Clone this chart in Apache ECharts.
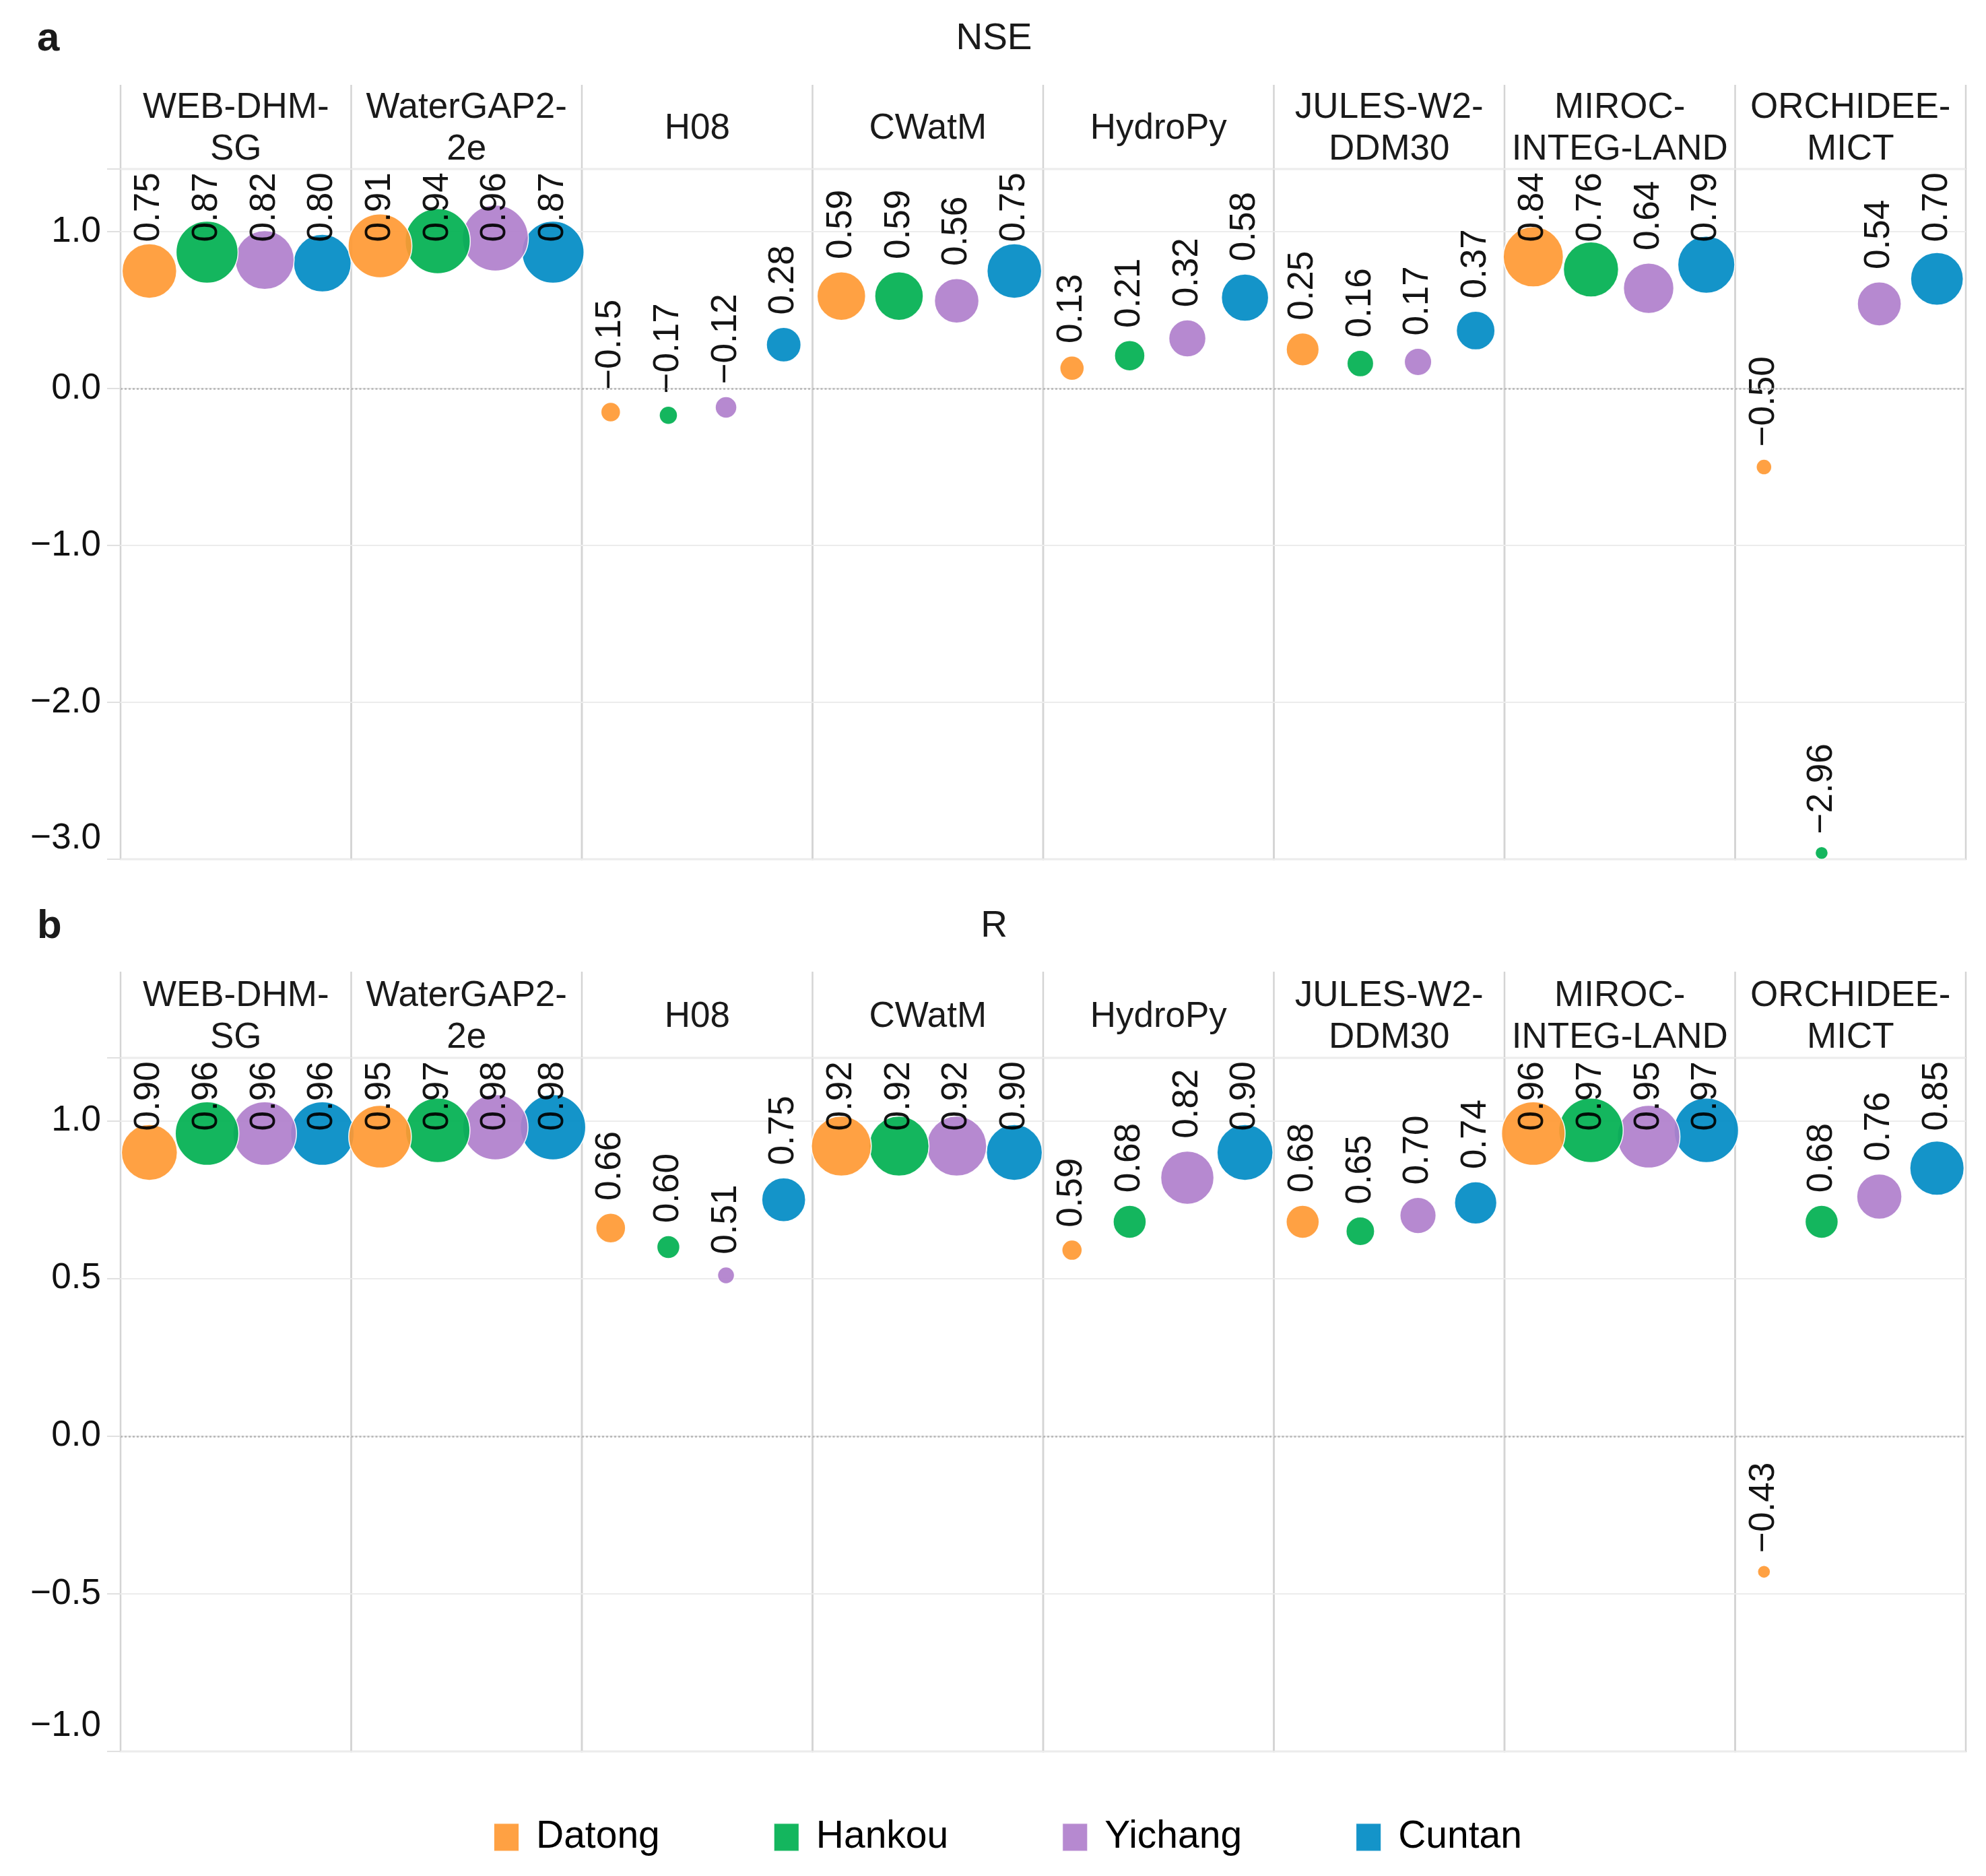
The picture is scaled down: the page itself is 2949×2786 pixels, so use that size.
<!DOCTYPE html>
<html lang="en">
<head>
<meta charset="UTF-8"/>
<title>NSE and R</title>
<script src="https://cdn.jsdelivr.net/npm/echarts@6/dist/echarts.min.js"></script>
<style>html,body{margin:0;padding:0;background:#fff;}</style>
</head>
<body>
<div id="main" style="width:2949px;height:2786px"></div>
<script>
// stations (legend order) and models (facets)
var stations = ['Datong', 'Hankou', 'Yichang', 'Cuntan'];
var models = ['WEB-DHM-SG', 'WaterGAP2-2e', 'H08', 'CWatM', 'HydroPy', 'JULES-W2-DDM30', 'MIROC-INTEG-LAND', 'ORCHIDEE-MICT'];
var modelHeaders = ['WEB-DHM-\nSG', 'WaterGAP2-\n2e', 'H08', 'CWatM', 'HydroPy', 'JULES-W2-\nDDM30', 'MIROC-\nINTEG-LAND', 'ORCHIDEE-\nMICT'];

// NSE, one value per model
var nseDatong  = [0.75, 0.91, -0.15, 0.59, 0.13, 0.25, 0.84, -0.50];
var nseHankou  = [0.87, 0.94, -0.17, 0.59, 0.21, 0.16, 0.76, -2.96];
var nseYichang = [0.82, 0.96, -0.12, 0.56, 0.32, 0.17, 0.64, 0.54];
var nseCuntan  = [0.80, 0.87, 0.28, 0.75, 0.58, 0.37, 0.79, 0.70];

// R, one value per model
var rDatong  = [0.90, 0.95, 0.66, 0.92, 0.59, 0.68, 0.96, -0.43];
var rHankou  = [0.96, 0.97, 0.60, 0.92, 0.68, 0.65, 0.97, 0.68];
var rYichang = [0.96, 0.98, 0.51, 0.92, 0.82, 0.70, 0.95, 0.76];
var rCuntan  = [0.96, 0.98, 0.75, 0.90, 0.90, 0.74, 0.97, 0.85];

var colors = ['#FF9933', '#00B050', '#B07FCC', '#008BC4'];
var FONT = '"Liberation Sans", Arial, sans-serif';

// point size scale (value -> diameter px), per panel
var nseSizeStops = [[-3, 19], [-0.5, 23], [-0.17, 27], [-0.12, 32], [0.13, 36], [0.21, 45], [0.32, 55],
                    [0.56, 66], [0.59, 72], [0.75, 81], [0.87, 92], [0.96, 98]];
var rSizeStops = [[-1, 18], [-0.43, 19], [0.51, 25], [0.59, 30], [0.60, 34], [0.66, 44], [0.68, 49],
                  [0.75, 65], [0.82, 79], [0.90, 83], [0.92, 89], [0.98, 97]];

function sizeOf(v, stops) {
    if (v <= stops[0][0]) return stops[0][1];
    for (var i = 1; i < stops.length; i++) {
        if (v <= stops[i][0]) {
            var a = stops[i - 1], b = stops[i];
            return a[1] + (v - a[0]) / (b[0] - a[0]) * (b[1] - a[1]);
        }
    }
    return stops[stops.length - 1][1];
}

function fmt(v, n) { return v.toFixed(n).replace('-', '\u2212'); }

var ctx = document.createElement('canvas').getContext('2d');
ctx.font = '53px "Liberation Sans"';
function textWidth(t) { return ctx.measureText(t).width; }

var LEFT = 179, FW = 342.5, GAP = 18;

var panels = [
    {tag: 'a', title: 'NSE', values: [nseDatong, nseHankou, nseYichang, nseCuntan], stops: nseSizeStops,
     min: -3, max: 1.4, interval: 1, headTop: 126, top: 251, bottom: 1276, titleY: 58, lowPad: 62},
    {tag: 'b', title: 'R', values: [rDatong, rHankou, rYichang, rCuntan], stops: rSizeStops,
     min: -1, max: 1.2, interval: 0.5, headTop: 1443, top: 1571, bottom: 2601, titleY: 1376, lowPad: 76}
];

var grids = [], xAxes = [], yAxes = [], series = [], graphics = [];
var drawOrder = [3, 2, 1, 0]; // Datong drawn last (on top)

panels.forEach(function (p, pi) {
    var ppu = (p.bottom - p.top) / (p.max - p.min);

    graphics.push({type: 'text', x: 55, y: p.titleY, style: {text: p.tag, fontSize: 60, fontWeight: 'bold',
        fontFamily: FONT, fill: '#1a1a1a', align: 'left', verticalAlign: 'middle', textAlign: 'left', textVerticalAlign: 'middle'}});
    graphics.push({type: 'text', x: 1476, y: p.titleY, style: {text: p.title, fontSize: 55,
        fontFamily: FONT, fill: '#1a1a1a', align: 'center', verticalAlign: 'middle', textAlign: 'center', textVerticalAlign: 'middle'}});

    for (var k = 0; k <= 8; k++) {
        graphics.push({type: 'line', shape: {x1: LEFT + k * FW, y1: p.headTop, x2: LEFT + k * FW, y2: p.top},
            style: {stroke: '#d4d4d4', lineWidth: 2.5}});
    }

    for (var m = 0; m < models.length; m++) {
        var g = pi * 8 + m;
        graphics.push({type: 'text', x: LEFT + m * FW + FW / 2, y: (p.headTop + p.top) / 2 + 3,
            style: {text: modelHeaders[m], fontSize: 53, lineHeight: 62, fontFamily: FONT, fill: '#1a1a1a',
                align: 'center', verticalAlign: 'middle', textAlign: 'center', textVerticalAlign: 'middle'}});

        grids.push({left: LEFT + m * FW, width: FW, top: p.top, height: p.bottom - p.top,
            show: true, borderColor: '#d4d4d4', borderWidth: 2.5, backgroundColor: 'transparent'});
        xAxes.push({gridIndex: g, type: 'category', data: stations, boundaryGap: true, show: false});
        yAxes.push({
            gridIndex: g, type: 'value', min: p.min, max: p.max, interval: p.interval,
            axisLine: {show: false},
            axisTick: {show: m === 0, length: 20, lineStyle: {color: '#e0e0e0', width: 2}},
            axisLabel: {
                show: m === 0, margin: 29, fontSize: 53, fontFamily: FONT, color: '#111',
                formatter: (function (pp) {
                    return function (v) {
                        var q = v / pp.interval;
                        if (Math.abs(q - Math.round(q)) > 1e-6) return '';
                        var t = fmt(v, 1);
                        return Math.abs(v - pp.min) < 1e-6 ? '{lo|' + t + '}' : t;
                    };
                })(p),
                rich: {lo: {fontSize: 53, fontFamily: FONT, color: '#111', padding: [0, 0, p.lowPad, 0]}}
            },
            splitLine: {show: true, lineStyle: {color: '#ececec', width: 2}}
        });

        drawOrder.forEach(function (s, j) {
            var v = p.values[s][m];
            var d = sizeOf(v, p.stops);
            var txt = fmt(v, 2);
            var cy = p.top + (p.max - v) * ppu;
            var natural = cy - d / 2 - GAP;
            var minAnchor = p.top + 6 + textWidth(txt);
            var shift = Math.max(0, minAnchor - natural);
            var item = {
                name: stations[s], type: 'scatter', xAxisIndex: g, yAxisIndex: g, silent: true,
                itemStyle: {color: colors[s], opacity: 0.92, borderColor: '#ffffff', borderWidth: 1.5},
                label: {show: true, position: 'top', distance: GAP, rotate: 90, align: 'left', verticalAlign: 'middle',
                    fontSize: 53, fontFamily: FONT, color: '#000'},
                emphasis: {disabled: true},
                data: [{value: [s, v], symbolSize: d, label: {formatter: txt, offset: [-shift, 0]}}]
            };
            if (j === 0) {
                item.markLine = {silent: true, symbol: 'none', label: {show: false},
                    lineStyle: {type: [3, 3], color: '#b5b5b5', width: 2.5}, data: [{yAxis: 0}]};
            }
            series.push(item);
        });
    }
});

var myChart = echarts.init(document.getElementById('main'));
myChart.setOption({
    animation: false,
    backgroundColor: '#ffffff',
    legend: {
        data: stations, left: 732, top: 2700, padding: 0, itemWidth: 38, itemHeight: 42, itemGap: 168, icon: 'rect',
        selectedMode: false,
        textStyle: {fontSize: 57, fontFamily: FONT, color: '#000', width: 200, padding: [0, 0, 0, 20]}
    },
    grid: grids,
    xAxis: xAxes,
    yAxis: yAxes,
    graphic: graphics,
    series: series
});
</script>
</body>
</html>
